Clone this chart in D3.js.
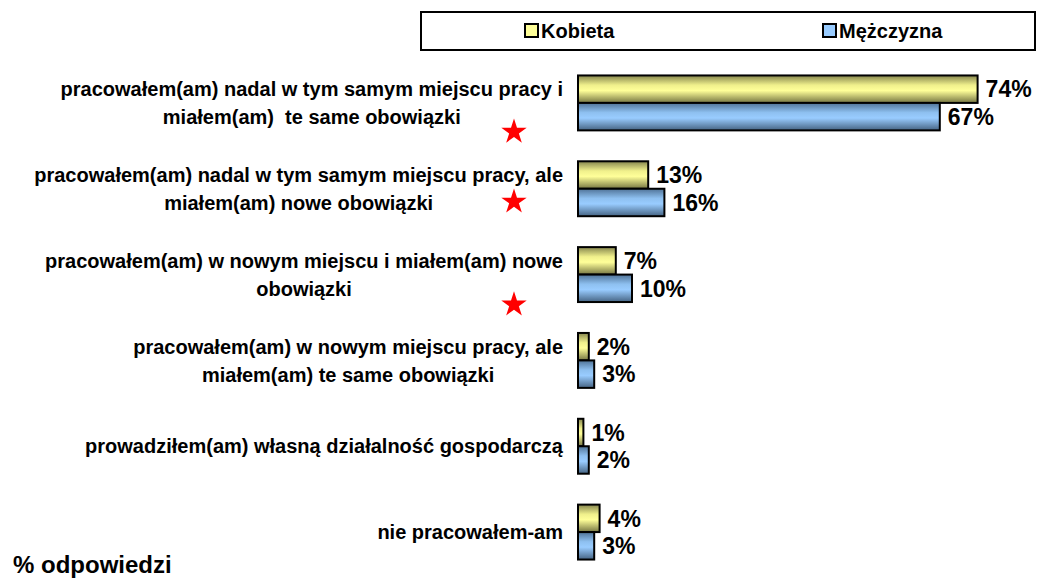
<!DOCTYPE html>
<html><head><meta charset="utf-8">
<script src="https://cdn.jsdelivr.net/npm/d3@7"></script>
<style>
html,body{margin:0;padding:0;background:#fff;}
svg{display:block;font-family:"Liberation Sans",Arial,sans-serif;font-weight:bold;}
text{white-space:pre;}
</style></head>
<body>
<svg id="chart" width="1037" height="578"></svg>
<script>
const categories = [
  ["pracowałem(am) nadal w tym samym miejscu pracy i", "miałem(am)  te same obowiązki"],
  ["pracowałem(am) nadal w tym samym miejscu pracy, ale", "miałem(am) nowe obowiązki"],
  ["pracowałem(am) w nowym miejscu i miałem(am) nowe", "obowiązki"],
  ["pracowałem(am) w nowym miejscu pracy, ale", "miałem(am) te same obowiązki"],
  ["prowadziłem(am) własną działalność gospodarczą"],
  ["nie pracowałem-am"]
];
const seriesNames = ["Kobieta", "Mężczyzna"];
const kobieta = [74, 13, 7, 2, 1, 4];
const mezczyzna = [67, 16, 10, 3, 2, 3];
const starredCategories = [0, 1, 2];
const axisTitle = "% odpowiedzi";

const svg = d3.select("#chart");
const catKeys = categories.map((c, i) => i);
const values = [kobieta, mezczyzna];

const defs = svg.append("defs");
const grads = [
  {id: "gK", stops: [["0%", "#85854d"], ["35%", "#f0f08c"], ["55%", "#ffff99"], ["100%", "#757542"]]},
  {id: "gM", stops: [["0%", "#4f7296"], ["35%", "#8ec0f0"], ["55%", "#99ccff"], ["100%", "#456382"]]}
];
grads.forEach(g => {
  const lg = defs.append("linearGradient").attr("id", g.id).attr("x1", 0).attr("y1", 0).attr("x2", 0).attr("y2", 1);
  g.stops.forEach(s => lg.append("stop").attr("offset", s[0]).attr("stop-color", s[1]));
});
const fills = ["url(#gK)", "url(#gM)"];
const swatch = ["#ffff99", "#99ccff"];

const x = d3.scaleLinear().domain([0, 80]).range([578, 578 + 80 * 5.4]);
const y0 = d3.scaleBand().domain(catKeys).range([60, 575]).paddingInner(0.36).paddingOuter(0.18);
const y1 = d3.scaleBand().domain([0, 1]).range([0, y0.bandwidth()]);

// bars
const groups = svg.append("g").selectAll("g").data(catKeys).join("g")
  .attr("transform", d => `translate(0,${y0(d)})`);
groups.selectAll("rect").data(d => [0, 1].map(s => ({s, v: values[s][d]}))).join("rect")
  .attr("x", x(0))
  .attr("y", d => y1(d.s))
  .attr("width", d => x(d.v) - x(0))
  .attr("height", y1.bandwidth())
  .attr("fill", d => fills[d.s])
  .attr("stroke", "#000").attr("stroke-width", 2);
groups.selectAll("text.val").data(d => [0, 1].map(s => ({s, v: values[s][d]}))).join("text")
  .attr("class", "val")
  .attr("x", d => x(d.v) + 8)
  .attr("y", d => y1(d.s) + y1.bandwidth() / 2)
  .attr("dy", "0.36em")
  .attr("font-size", 23)
  .attr("fill", "#000")
  .text(d => d.v + "%");

// category labels
const labelRight = 563;
const lab = svg.append("g");
catKeys.forEach(i => {
  const lines = categories[i];
  const cy = y0(i) + y0.bandwidth() / 2;
  const t = lab.append("text").attr("font-size", 20).attr("text-anchor", "middle").attr("fill", "#000");
  const tspans = lines.map((ln, k) => t.append("tspan").attr("y", cy + (k - (lines.length - 1) / 2) * 28).attr("dy", "0.36em").text(ln));
  const maxW = d3.max(tspans, ts => ts.node().getComputedTextLength());
  tspans.forEach(ts => ts.attr("x", labelRight - maxW / 2));
});

// stars
const starOffsets = [29, 13, 30];
svg.append("g").selectAll("path").data(starredCategories).join("path")
  .attr("d", d3.symbol().type(d3.symbolStar).size(200))
  .attr("fill", "#ff0000")
  .attr("transform", (d, k) => `translate(514,${y0(d) + y0.bandwidth() / 2 + starOffsets[k]})`);

// legend
const lg = svg.append("g");
lg.append("rect").attr("x", 421).attr("y", 12).attr("width", 614).attr("height", 38)
  .attr("fill", "#fff").attr("stroke", "#000").attr("stroke-width", 2);
const legX = [525, 823];
seriesNames.forEach((n, i) => {
  lg.append("rect").attr("x", legX[i]).attr("y", 24).attr("width", 13).attr("height", 13)
    .attr("fill", swatch[i]).attr("stroke", "#000").attr("stroke-width", 2);
  lg.append("text").attr("x", legX[i] + 16).attr("y", 31).attr("dy", "0.36em")
    .attr("font-size", 20).text(n);
});

svg.append("text").attr("x", 13).attr("y", 573).attr("font-size", 24).text(axisTitle);
</script>
</body></html>
